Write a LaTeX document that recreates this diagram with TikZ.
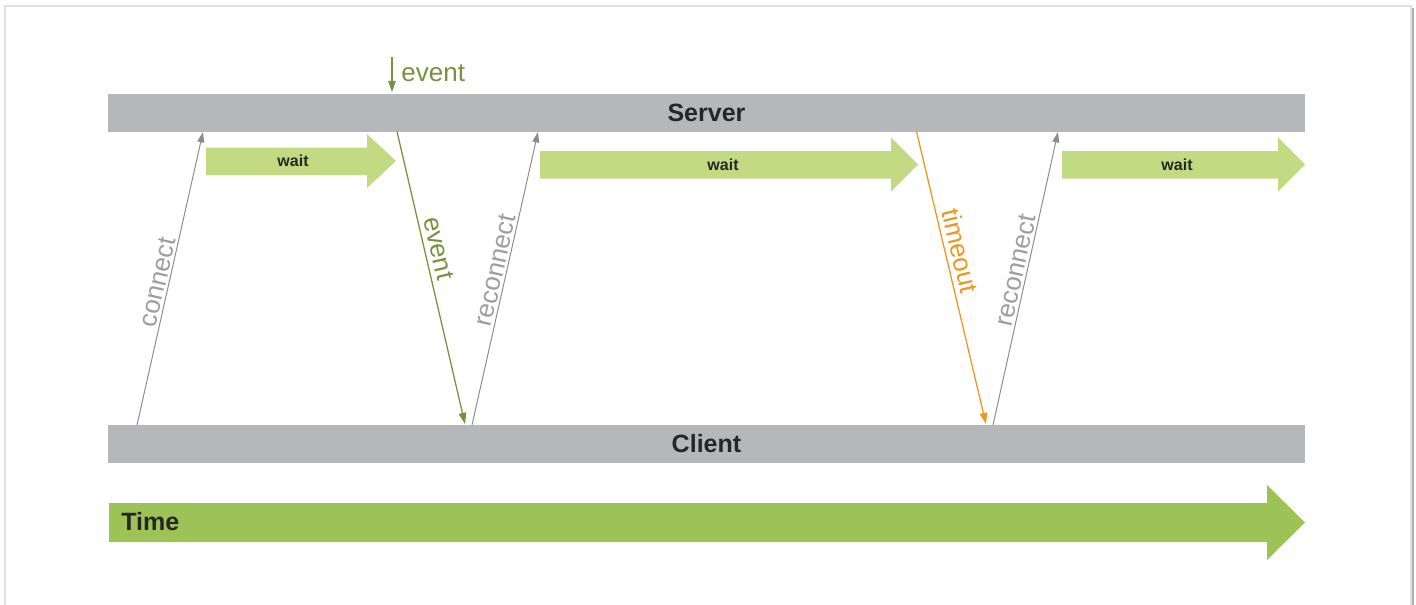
\documentclass[tikz,border=0pt]{standalone}
\usepackage{fontspec}
\setmainfont{Liberation Sans}
\usepackage{xcolor}
\usepackage{tikz}
\usetikzlibrary{arrows.meta}

\definecolor{bargray}{HTML}{B6B7BA}
\definecolor{waitgreen}{HTML}{C2DB83}
\definecolor{timegreen}{HTML}{9DC256}
\definecolor{eventgreen}{HTML}{76923C}
\definecolor{timeorange}{HTML}{F0951E}
\definecolor{msggray}{HTML}{8C8C8C}
\definecolor{labelgray}{HTML}{9E9E9E}
\definecolor{darktext}{HTML}{262626}

\tikzset{
  bartext/.style={font=\bfseries\fontsize{17.8}{20}\selectfont,text=darktext},
  waittext/.style={font=\bfseries\fontsize{11.4}{13}\selectfont,text=darktext},
  msgtext/.style={font=\fontsize{18.5}{21}\selectfont,inner sep=1.5pt},
  msg/.style={draw=msggray,line width=0.7pt,-{Triangle[length=2.6mm,width=1.7mm]}},
  reply/.style={line width=0.9pt,-{Triangle[length=2.8mm,width=1.9mm]}},
}

\begin{document}
\begin{tikzpicture}[x=0.025cm,y=-0.025cm]
    \useasboundingbox (0,0) rectangle (1416,605);
    \begin{scope}
      \clip (0,0) rectangle (1416,605);
      \draw[black!12,line width=1pt] (5,6) rectangle (1411,640);
      \draw[black!30,line width=1.4pt] (1413,8) -- (1413,640);
    \end{scope}

    % server and client lines
    \fill[bargray] (108,94) rectangle (1305,131.5);
    \node[bartext] (server) at (706.5,112.5) {Server};
    \fill[bargray] (108,425) rectangle (1305,462.5);
    \node[bartext] (client) at (706.5,443.5) {Client};

    % waiting periods
    \fill[waitgreen] (206,147.5) -- (367,147.5) -- (367,134) -- (396,161) -- (367,188) -- (367,175) -- (206,175) -- cycle;
    \node[waittext] (wait1) at (293,161) {wait};
    \fill[waitgreen] (540,151) -- (891,151) -- (891,137.5) -- (918,164.5) -- (891,191.5) -- (891,178.5) -- (540,178.5) -- cycle;
    \node[waittext] (wait2) at (723,164.5) {wait};
    \fill[waitgreen] (1062,151) -- (1278,151) -- (1278,137.5) -- (1305,164.5) -- (1278,191.5) -- (1278,178.5) -- (1062,178.5) -- cycle;
    \node[waittext] (wait3) at (1177,164.5) {wait};

    % time
    \fill[timegreen] (109,503) -- (1267,503) -- (1267,485) -- (1305,522.5) -- (1267,560) -- (1267,542) -- (109,542) -- cycle;
    \node[bartext,anchor=west,inner sep=0pt] (time) at (121,522) {Time};

    % messages
    \coordinate (c1) at (137,425);   \coordinate (s1) at (203,132);
    \coordinate (s2) at (397,131.5); \coordinate (c2) at (465,424);
    \coordinate (c3) at (472,425);   \coordinate (s3) at (538,132);
    \coordinate (s4) at (916.5,131.5); \coordinate (c4) at (986,424);
    \coordinate (c5) at (993,425);   \coordinate (s5) at (1058,132);
    \coordinate (e0) at (392,57);    \coordinate (e1) at (392,92);

    \draw[msg] (c1) to node[msgtext,pos=0.48,sloped,above,text=labelgray] {connect} (s1);
    \draw[reply,draw=eventgreen] (s2) to node[msgtext,pos=0.41,sloped,above,inner sep=3.5pt,text=eventgreen] {event} (c2);
    \draw[msg] (c3) to node[msgtext,pos=0.52,sloped,above,text=labelgray] {reconnect} (s3);
    \draw[reply,draw=timeorange] (s4) to node[msgtext,pos=0.42,sloped,above,inner sep=3.5pt,text=timeorange] {timeout} (c4);
    \draw[msg] (c5) to node[msgtext,pos=0.52,sloped,above,text=labelgray] {reconnect} (s5);
    \draw[reply,draw=eventgreen] (e0) to (e1);
    \node[msgtext,anchor=west,text=eventgreen] (ev) at (399,73) {event};
\end{tikzpicture}
\end{document}
